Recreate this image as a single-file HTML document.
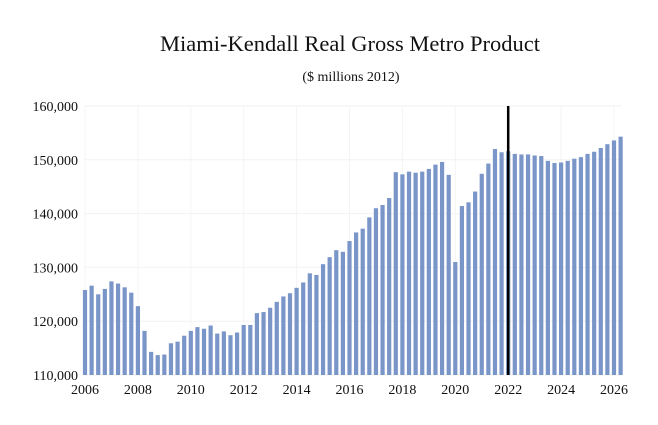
<!DOCTYPE html>
<html><head><meta charset="utf-8"><style>
body{margin:0;background:#fff;}
svg text{font-family:"Liberation Serif",serif;fill:#111;}
</style></head><body>
<svg width="658" height="420">
<text x="350" y="51" font-size="22.5" text-anchor="middle">Miami-Kendall Real Gross Metro Product</text>
<text x="351" y="81" font-size="14" text-anchor="middle">($ millions 2012)</text>
<g id="grid"></g><g id="bars"></g><g id="axes"></g>
</svg>
<script>
const yTicks=[110000,120000,130000,140000,150000,160000];
const xTicks=[2006,2008,2010,2012,2014,2016,2018,2020,2022,2024,2026];
const startYear=2006;
const values=[125.8,126.6,125.0,126.0,127.4,127.0,126.3,125.3,122.8,118.2,114.3,113.7,113.8,115.9,116.2,117.3,118.2,118.9,118.6,119.2,117.7,118.1,117.4,117.9,119.3,119.3,121.5,121.7,122.5,123.6,124.6,125.2,126.2,127.2,128.9,128.6,130.6,131.9,133.2,132.9,134.9,136.5,137.2,139.3,141.0,141.6,142.9,147.7,147.3,147.8,147.6,147.8,148.3,149.1,149.6,147.2,131.0,141.4,142.1,144.1,147.4,149.3,152.0,151.4,151.6,151.1,151.0,151.0,150.8,150.7,149.8,149.4,149.5,149.8,150.2,150.5,151.1,151.5,152.2,152.9,153.6,154.3];
const markerYear=2022;
const NS="http://www.w3.org/2000/svg";
const X0=85,X1=614,Y0=375,Y1=106;
const x=v=>X0+(v-2006)/(2026-2006)*(X1-X0);
const y=v=>Y0-(v-110000)/(160000-110000)*(Y0-Y1);
function mk(t,a,p){const e=document.createElementNS(NS,t);for(const k in a)e.setAttribute(k,a[k]);p.appendChild(e);return e;}
const grid=document.getElementById('grid'),bars=document.getElementById('bars'),axes=document.getElementById('axes');
yTicks.forEach(t=>{
 const l=mk('line',{x1:X0,x2:X1+8,y1:y(t),y2:y(t),stroke:'#f2f2f2'},grid);
 
 
 const tx=mk('text',{x:X0-7,y:y(t)+5,'font-size':14,'text-anchor':'end'},axes);
 tx.textContent=t.toLocaleString('en-US');
 
 
});
xTicks.forEach(t=>{
 const l=mk('line',{x1:x(t),x2:x(t),y1:Y1,y2:Y0,stroke:'#f4f4f4'},grid);
 
 
 const tx=mk('text',{x:x(t),y:Y0+19,'font-size':14,'text-anchor':'middle'},axes);
 tx.textContent=t;
 
 
});
values.forEach((v,i)=>{
 const cx=x(startYear+i/4);
 const r=mk('rect',{x:cx-2.1,y:y(v*1000),width:4.2,height:Y0-y(v*1000),fill:'#7a96c9'},bars);
 
 
});
const m=mk('line',{x1:x(markerYear),x2:x(markerYear),y1:Y1,y2:Y0,stroke:'#000','stroke-width':2.5},axes);


</script>
</body></html>
